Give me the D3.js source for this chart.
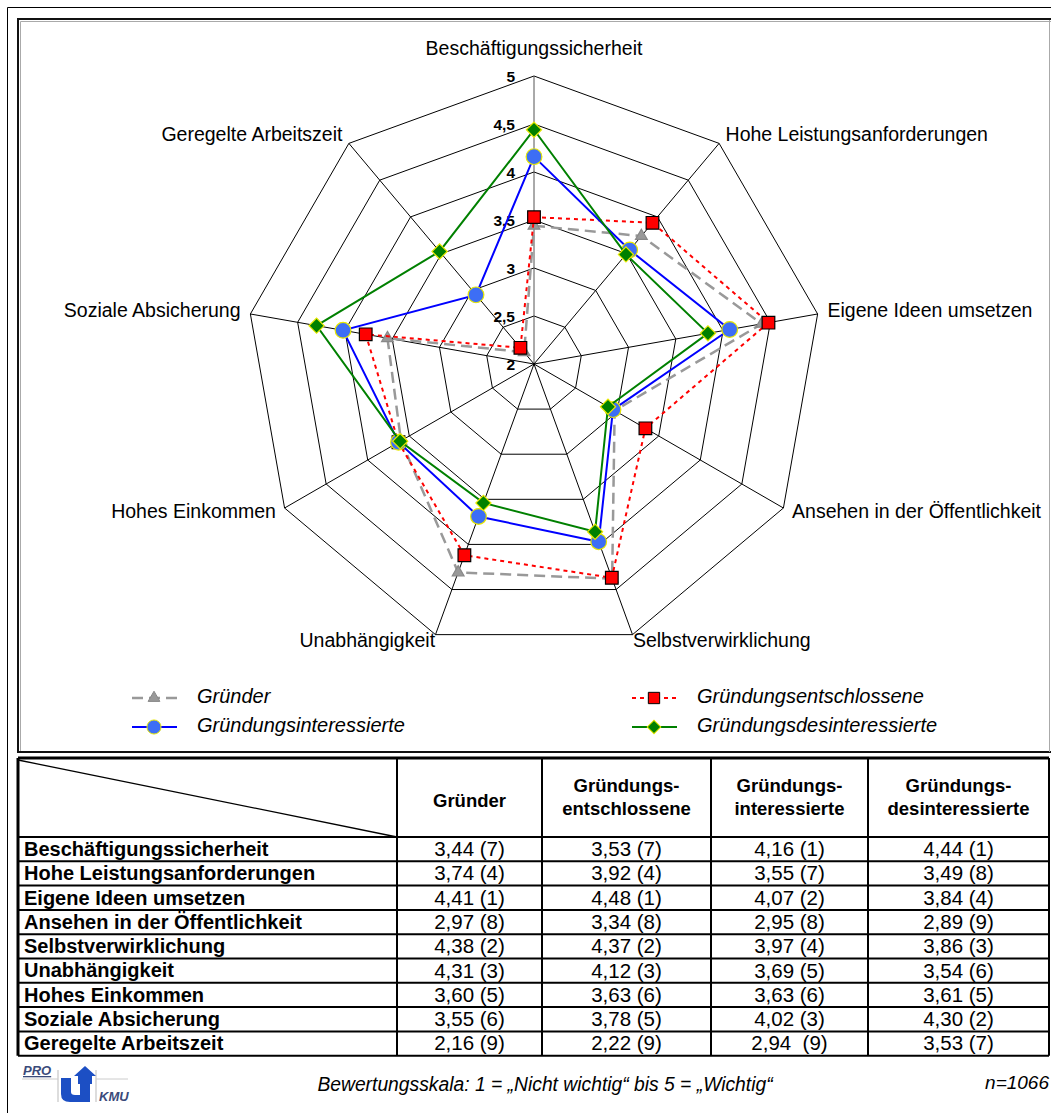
<!DOCTYPE html>
<html>
<head>
<meta charset="utf-8">
<script src="https://cdn.jsdelivr.net/npm/d3@7"></script>
<style>
  body { margin: 0; background: #fff; }
  svg { display: block; font-family: "Liberation Sans", Arial, sans-serif; }
</style>
</head>
<body>
<svg id="chart" width="1051" height="1113"></svg>
<script>
// categories (clockwise from top)
const categories = [
  'Beschäftigungssicherheit', 'Hohe Leistungsanforderungen', 'Eigene Ideen umsetzen',
  'Ansehen in der Öffentlichkeit', 'Selbstverwirklichung', 'Unabhängigkeit',
  'Hohes Einkommen', 'Soziale Absicherung', 'Geregelte Arbeitszeit'
];
const seriesNames = ['Gründer', 'Gründungsentschlossene', 'Gründungsinteressierte', 'Gründungsdesinteressierte'];
const headerLines = [['Gründer'], ['Gründungs-', 'entschlossene'], ['Gründungs-', 'interessierte'], ['Gründungs-', 'desinteressierte']];

const gruender = [3.44, 3.74, 4.41, 2.97, 4.38, 4.31, 3.60, 3.55, 2.16];
const entschlossene = [3.53, 3.92, 4.48, 3.34, 4.37, 4.12, 3.63, 3.78, 2.22];
const interessierte = [4.16, 3.55, 4.07, 2.95, 3.97, 3.69, 3.63, 4.02, 2.94];
const desinteressierte = [4.44, 3.49, 3.84, 2.89, 3.86, 3.54, 3.61, 4.30, 3.53];

const gruenderRank = [7, 4, 1, 8, 2, 3, 5, 6, 9];
const entschlosseneRank = [7, 4, 1, 8, 2, 3, 6, 5, 9];
const interessierteRank = [1, 7, 2, 8, 4, 5, 6, 3, 9];
const desinteressierteRank = [1, 8, 4, 9, 3, 6, 5, 2, 7];

const ticks = [2, 2.5, 3, 3.5, 4, 4.5, 5];

const svg = d3.select('#chart');
const cx = 534, cy = 364, R = 288;

// frames
svg.append('path').attr('d', 'M7.5,1113 V7.5 H1051').attr('fill', 'none').attr('stroke', '#000').attr('stroke-width', 1);
svg.append('rect').attr('x', 18).attr('y', 19).attr('width', 1040).attr('height', 733)
  .attr('fill', 'none').attr('stroke', '#111').attr('stroke-width', 2);
svg.append('path').attr('d', 'M20.5,751 V21.5 H1051').attr('fill', 'none').attr('stroke', '#aaa').attr('stroke-width', 1);
svg.append('line').attr('x1', 1049.5).attr('x2', 1049.5).attr('y1', 20).attr('y2', 752).attr('stroke', '#aaa');

const r = d3.scaleLinear().domain([2, 5]).range([0, R]);
const angle = d3.scaleLinear().domain([0, categories.length]).range([0, 2 * Math.PI]);
const pt = (i, v) => [cx + r(v) * Math.sin(angle(i)), cy - r(v) * Math.cos(angle(i))];

const grid = svg.append('g');
ticks.filter(t => t > 2).forEach(t => {
  grid.append('path')
    .attr('d', d3.line().curve(d3.curveLinearClosed)(categories.map((c, i) => pt(i, t))))
    .attr('fill', 'none').attr('stroke', '#000').attr('stroke-width', 1);
});
categories.forEach((c, i) => {
  const [x, y] = pt(i, 5);
  grid.append('line').attr('x1', cx).attr('y1', cy).attr('x2', x).attr('y2', y)
    .attr('stroke', i === 0 ? '#555' : '#000').attr('stroke-width', 1);
});

// tick labels
svg.append('g').selectAll('text').data(ticks).join('text')
  .attr('x', cx - 19).attr('y', d => cy - r(d) + 2)
  .attr('text-anchor', 'end').attr('dominant-baseline', 'middle')
  .attr('font-size', 15.5).attr('font-weight', 'bold')
  .text(d => String(d).replace('.', ','));

// category labels
svg.append('g').selectAll('text').data(categories).join('text')
  .each(function (d, i) {
    const a = angle(i), s = Math.sin(a), c = Math.cos(a);
    let x = cx + (R + 10) * s, y = cy - (R + 10) * c;
    let anchor = Math.abs(s) < 0.01 ? 'middle' : (s > 0 ? 'start' : 'end');
    if (i === 0) y -= 16;
    if (c < -0.9) { y -= 2; x += s > 0 ? -3 : 3; }
    d3.select(this).attr('x', x).attr('y', y).attr('text-anchor', anchor);
  })
  .attr('dominant-baseline', 'middle').attr('font-size', 19.5)
  .text(d => d);

// series
const series = [
  { name: seriesNames[0], values: gruender, line: '#999', width: 2.5, dash: '11,6', marker: 'triangle', fill: '#999', stroke: '#888', size: 60 },
  { name: seriesNames[1], values: entschlossene, line: '#ff0000', width: 2, dash: '4,4', marker: 'square', fill: '#ff0000', stroke: '#000', size: 160 },
  { name: seriesNames[2], values: interessierte, line: '#0000ff', width: 2, dash: null, marker: 'circle', fill: '#3d6ef5', stroke: '#e8e800', size: 195 },
  { name: seriesNames[3], values: desinteressierte, line: '#008000', width: 2, dash: null, marker: 'diamond', fill: '#008000', stroke: '#e8e800', size: 115 }
];
const symbolType = { triangle: d3.symbolTriangle, square: d3.symbolSquare, circle: d3.symbolCircle, diamond: d3.symbolSquare };
const rot = m => (m === 'diamond' ? ' rotate(45)' : '');

const radial = d3.lineRadial().angle((d, i) => angle(i)).radius(d => r(d)).curve(d3.curveLinearClosed);
const plot = svg.append('g').attr('transform', `translate(${cx},${cy})`);
series.forEach(s => {
  plot.append('path').attr('d', radial(s.values))
    .attr('fill', 'none').attr('stroke', s.line).attr('stroke-width', s.width)
    .attr('stroke-dasharray', s.dash);
  plot.append('g').selectAll('path').data(s.values).join('path')
    .attr('transform', (d, i) => `translate(${r(d) * Math.sin(angle(i))},${-r(d) * Math.cos(angle(i))})${rot(s.marker)}`)
    .attr('d', d3.symbol().type(symbolType[s.marker]).size(s.size))
    .attr('fill', s.fill).attr('stroke', s.stroke).attr('stroke-width', 1.2);
});

// legend
const legendPos = [[130, 698], [630, 698], [130, 727], [630, 727]];
series.forEach((s, k) => {
  const [lx, ly] = legendPos[k];
  const g = svg.append('g').attr('transform', `translate(${lx},${ly})`);
  g.append('line').attr('x1', 2).attr('x2', 47).attr('y1', 0).attr('y2', 0)
    .attr('stroke', s.line).attr('stroke-width', s.width).attr('stroke-dasharray', s.dash);
  g.append('path').attr('transform', `translate(24,0)${rot(s.marker)}`)
    .attr('d', d3.symbol().type(symbolType[s.marker]).size(s.marker === 'triangle' ? s.size : s.size * 0.8))
    .attr('fill', s.fill).attr('stroke', s.stroke).attr('stroke-width', 1);
  g.append('text').attr('x', 67).attr('y', 0).attr('dominant-baseline', 'middle')
    .attr('font-size', 20).attr('font-style', 'italic').text(s.name);
});

// table
const colX = [18, 397, 542, 711, 868, 1049];
const tableTop = 758, headerBottom = 837, rowH = 24.3;
const tbl = svg.append('g');
const y = d3.scaleLinear().domain([0, categories.length]).range([headerBottom, headerBottom + rowH * categories.length]);
const tableBottom = y(categories.length);

tbl.append('line').attr('x1', colX[0]).attr('y1', tableTop + 2).attr('x2', colX[1]).attr('y2', headerBottom)
  .attr('stroke', '#000').attr('stroke-width', 1.3);
d3.range(categories.length + 1).forEach(k => {
  tbl.append('line').attr('x1', colX[0]).attr('x2', colX[5]).attr('y1', y(k)).attr('y2', y(k))
    .attr('stroke', '#000').attr('stroke-width', 2);
});
colX.forEach((x, k) => {
  tbl.append('line').attr('x1', x).attr('x2', x).attr('y1', tableTop).attr('y2', tableBottom)
    .attr('stroke', '#000').attr('stroke-width', k === 0 ? 3 : 2);
});
tbl.append('line').attr('x1', colX[0]).attr('x2', colX[5]).attr('y1', tableTop).attr('y2', tableTop)
  .attr('stroke', '#000').attr('stroke-width', 3);

headerLines.forEach((lines, k) => {
  const mx = (colX[k + 1] + colX[k + 2]) / 2;
  const t = tbl.append('text').attr('x', mx).attr('text-anchor', 'middle')
    .attr('font-size', 18.5).attr('font-weight', 'bold');
  lines.forEach((ln, j) => {
    t.append('tspan').attr('x', mx)
      .attr('y', lines.length === 1 ? 807 : 792 + j * 23).text(ln);
  });
});

const values = [gruender, entschlossene, interessierte, desinteressierte];
const ranks = [gruenderRank, entschlosseneRank, interessierteRank, desinteressierteRank];
const fmt = v => d3.format('.2f')(v).replace('.', ',');
categories.forEach((c, i) => {
  const yc = (y(i) + y(i + 1)) / 2 + 1.5;
  tbl.append('text').attr('x', 24).attr('y', yc).attr('dominant-baseline', 'middle')
    .attr('font-size', 20).attr('font-weight', 'bold').text(c);
  values.forEach((vals, k) => {
    const gap = (k === 2 && i === 8) ? '  ' : ' ';
    tbl.append('text').attr('x', (colX[k + 1] + colX[k + 2]) / 2).attr('y', yc)
      .attr('text-anchor', 'middle').attr('dominant-baseline', 'middle')
      .attr('font-size', 20.5).style('white-space', 'pre')
      .text(`${fmt(vals[i])}${gap}(${ranks[k][i]})`);
  });
});

// footer
svg.append('text').attr('x', 545).attr('y', 1086).attr('text-anchor', 'middle')
  .attr('dominant-baseline', 'middle').attr('font-size', 19.3).attr('font-style', 'italic')
  .text('Bewertungsskala: 1 = „Nicht wichtig“ bis 5 = „Wichtig“');
svg.append('text').attr('x', 1049).attr('y', 1084).attr('text-anchor', 'end')
  .attr('dominant-baseline', 'middle').attr('font-size', 19).attr('font-style', 'italic')
  .text('n=1066');

// logo
const logo = svg.append('g');
logo.append('line').attr('x1', 58).attr('x2', 58).attr('y1', 1070).attr('y2', 1102).attr('stroke', '#bbb');
logo.append('line').attr('x1', 96).attr('x2', 96).attr('y1', 1070).attr('y2', 1102).attr('stroke', '#bbb');
logo.append('line').attr('x1', 22).attr('x2', 58).attr('y1', 1079).attr('y2', 1079).attr('stroke', '#ccc');
logo.append('line').attr('x1', 96).attr('x2', 128).attr('y1', 1079).attr('y2', 1079).attr('stroke', '#ccc');
logo.append('text').attr('x', 23).attr('y', 1075).attr('font-size', 13).attr('font-weight', 'bold')
  .attr('font-style', 'italic').attr('fill', '#3a4a7a').attr('text-decoration', 'underline').text('PRO');
logo.append('path')
  .attr('d', 'M61,1078 H71 V1092 Q71,1095 75,1095 H80 V1084 H90 V1102 H70 Q61,1102 61,1094 Z')
  .attr('fill', '#1c4fc4');
logo.append('path').attr('d', 'M78,1084 V1076 H74 L85,1066 L96,1076 H92 V1084 Z').attr('fill', '#1c4fc4');
logo.append('text').attr('x', 99).attr('y', 1101).attr('font-size', 13).attr('font-weight', 'bold')
  .attr('font-style', 'italic').attr('fill', '#3a4a7a').text('KMU');
</script>
</body>
</html>
